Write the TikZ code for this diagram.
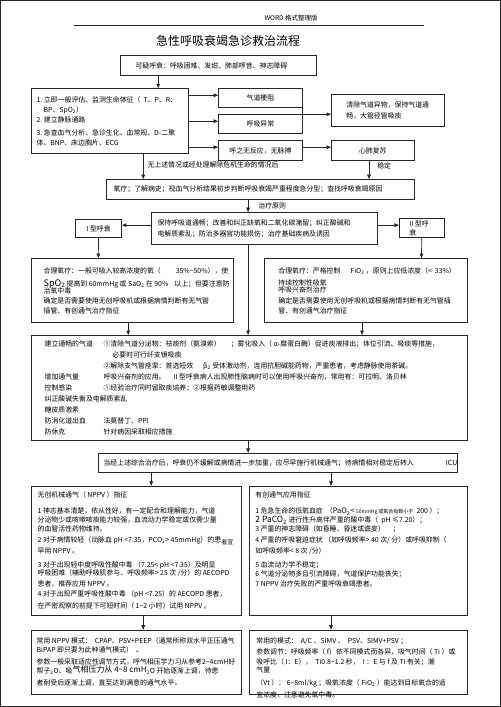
\documentclass[tikz,border=0pt]{standalone}
\usepackage{fontspec}
\setmainfont{Noto Sans CJK SC}
\usepackage{tikz}
\usetikzlibrary{arrows.meta}
\tikzset{
  >={Triangle[length=4.5pt,width=3.6pt]},
  flowbox/.style={draw=black!85, line width=0.7pt, inner sep=0pt, font=\fontsize{6.9}{10}\selectfont},
  flowlabel/.style={inner sep=1pt, font=\fontsize{6.9}{8}\selectfont},
  every path/.style={line width=0.7pt, draw=black!85}
}
\newcommand{\flowbox}[6]{\node (#1) [flowbox, anchor=north west] at (#2) {\parbox[c][#4pt][c]{#3pt}{\leftskip=#5pt\relax\rightskip=0pt plus 1fil\relax #6}};}
\newcommand{\flowarrow}[2]{\draw [->] (#1) -- (#2);}
\newcommand{\flowlabelarrow}[4]{\draw [->] (#1) -- (#2) node [flowlabel, #3] {#4};}

\begin{document}
\begin{tikzpicture}[x=1pt, y=-1pt]
\useasboundingbox (0,0) rectangle (500,707);

% header and title
\node (header) at (291,18) [font=\fontsize{6.5}{7}\selectfont] {WORD 格式整理版};
\draw (74,25) -- (424,25);
\node (title) at (228,41) [font=\fontsize{12}{14}\selectfont] {急性呼吸衰竭急诊救治流程};

% first assessment
\flowbox{suspect}{120,55}{196}{20}{15}{可疑呼衰：呼吸困难、发绀、肺部啰音、神志障碍};
\flowbox{assess}{31,88}{157}{65}{5}{1.~立即一般评估、监测生命体征（~~T、P、R、\\
\hspace*{7pt}BP、SpO\textsubscript{2}）\\
2.~建立静脉通路\\[3pt]
3.~急查血气分析、急诊生化、血常规、D-二聚\\
体、BNP、床边胸片、ECG};
\flowbox{obstr}{218,88}{84}{19}{0}{\centering 气道梗阻};
\flowbox{abnorm}{218,114}{84}{19}{0}{\centering 呼吸异常};
\flowbox{arrest}{218,140}{84}{20}{0}{\centering 呼之无反应，无脉搏};
\flowbox{clear}{331,94}{113}{32}{15}{清除气道异物，保持气道通\\[1pt]畅，大管径管吸痰};
\flowbox{cpr}{331,140}{83}{20}{0}{\centering 心肺复苏};

% oxygen and principles
\flowbox{oxygen}{106,179}{308}{20}{7}{氧疗；了解病史；视血气分析结果初步判断呼吸衰竭严重程度急分型；查找呼吸衰竭原因};
\flowbox{principles}{151,212}{226}{32}{6}{保持呼吸道通畅；改善和纠正缺氧和二氧化碳潴留；纠正酸碱和\\[1pt]
电解质紊乱；防治多器官功能损伤；治疗基础疾病及诱因};
\flowbox{typeI}{75,219}{46}{18}{0}{\centering I~型呼衰};
\flowbox{typeII}{399,218}{45}{19}{10}{II~型呼\\[-1pt]衰};

% oxygen therapy by type
\flowbox{leftox}{31,258}{202}{64}{12}{合理氧疗：一般可吸入较高浓度的氧（\hspace{15pt}35\%\textasciitilde50\%），使\\[3pt]
{\fontsize{9}{9}\selectfont SpO\textsubscript{2}}~提高到~60mmHg~或~SaO\textsubscript{2}~在~90\%\hspace{6pt}以上；但要注意防\\[-3pt]
治氧中毒\\
确定是否需要使用无创呼吸机或根据病情判断有无气管\\
插管、有创通气治疗指征};
\flowbox{rightox}{264,258}{203}{64}{14}{合理氧疗：严格控制\hspace{10pt}FiO\textsubscript{2}~，原则上应低浓度（<~~33\%）\\[2pt]
持续控制性吸氧\\[-3pt]
呼吸兴奋剂治疗\\[1pt]
确定是否需要使用无创呼吸机或根据病情判断有无气管插\\
管、有创通气治疗指征};

% general treatment
\flowbox{treat}{31,335}{436}{105}{13}{\baselineskip=11pt
\makebox[59pt][l]{建立通畅的气道}①清除气道分泌物：祛痰剂（氨溴索）\hspace{10pt}；雾化吸入（~α-糜蛋白酶）促进痰液排出；体位引流、吸痰等措施，\\
\hspace*{68pt}必要时可行纤支镜吸痰\\
\hspace*{59pt}②解除支气管痉挛：首选短效\hspace{10pt}β\textsubscript{2}~受体激动剂，连用抗胆碱能药物，严重患者，考虑静脉使用茶碱。\\
\makebox[59pt][l]{增加通气量}呼吸兴奋剂的应用。\hspace{8pt}II~型呼衰病人出现肺性脑病时可以使用呼吸兴奋剂，常用有：可拉明、洛贝林\\
\makebox[59pt][l]{控制感染}①经验治疗同时留取痰培养；②根据药敏调整用药\\
纠正酸碱失衡及电解质紊乱\\
糖皮质激素\\
\makebox[59pt][l]{防消化道出血}法莫替丁、PPI\\
\makebox[59pt][l]{防休克}针对病因采取相应措施};

\flowbox{icu}{98,453}{359}{19}{5}{当经上述综合治疗后，呼衰仍不缓解或病情进一步加重，应尽早施行机械通气；待病情相对稳定后转入\hfill ICU};

% ventilation
\flowbox{nppv}{31,486}{210}{129}{6}{无创机械通气（~NPPV~）指征\\[6pt]
1~神志基本清楚，依从性好，有一定配合和理解能力，气道\\[-1pt]
分泌物少或咳嗽咳痰能力较强，血流动力学稳定或仅需少量\\[-1pt]
的血管活性药物维持。\\[1pt]
2~对于病情较轻（动脉血~pH~<7.35，PCO\textsubscript{2}{\fontsize{7}{8}\selectfont>~45mmHg）的患}\raisebox{-1.5pt}{\fontsize{6}{7}\selectfont 者宜}\\[1pt]
早用~NPPV~。\\[4pt]
3~对于出现轻中度呼吸性酸中毒~（7.25<~pH~<7.35）及明显\\[-2pt]
呼吸困难（辅助呼吸肌参与、呼吸频率>~25~次~/分）的~AECOPD\\[1pt]
患者，推荐应用~NPPV~。\\
4~对于出现严重呼吸性酸中毒~（pH~<7.25）的~AECOPD~患者，\\[2pt]
在严密观察的前提下可短时间（~1\textasciitilde2~小时）试用~NPPV~。};
\flowbox{invasive}{249,486}{218}{129}{6}{有创通气应用指征\\[6pt]
1~危急生命的低氧血症~~（{\fontsize{7.5}{8}\selectfont PaO\textsubscript{2}<}~{\fontsize{5}{6}\selectfont 50mmHg~或氧合指数小于}~~200~）；\\[-1pt]
{\fontsize{8.5}{8}\selectfont 2~PaCO\textsubscript{2}}~进行性升高伴严重的酸中毒（~~pH~≤7.20）；\\[-1pt]
3~严重的神志障碍（如昏睡、昏迷或谵妄）\hspace{8pt}；\\[1pt]
4~严重的呼吸窘迫症状~（如呼吸频率>~40~次/~分）或呼吸抑制（\\[1pt]
如呼吸频率<~8~次~/分）\\[4pt]
5~血流动力学不稳定；\\[-1pt]
6~气道分泌物多且引流障碍，气道保护功能丧失；\\
7~NPPV~治疗失败的严重呼吸衰竭患者。\par\vspace{22pt}};
\flowbox{nppvmode}{31,630}{210}{64}{5}{常用~NPPV~模式：~~CPAP、PSV+PEEP（通常所称双水平正压通气\\[-1pt]
BiPAP~即只要为此种通气模式）~~。\\[2pt]
参数一般采取适应性调节方式，呼气相压学力习从参考2\textasciitilde4cmH好\\[-1pt]
帮子\textsubscript{2}O、吸\raisebox{1.5pt}{\fontsize{8}{8}\selectfont 气相压力从~4\textasciitilde8~cmH}\textsubscript{2}O~开始逐渐上调，待患\\[2pt]
者耐受后逐渐上调，直至达到满意的通气水平。};
\flowbox{invmode}{249,630}{218}{64}{7}{\vspace*{12pt}常用的模式：~~A/C~、SIMV~、~~PSV、SIMV+PSV~；\\[1pt]
参数调节：呼吸频率（~f）依不同模式而各异，吸气时间（~Ti~）或\\
吸呼比（~I：E），~~Ti0.8\textasciitilde1.2~秒，~~I~：E~与~f~及~Ti~有关；潮\\[-2pt]
气量\\[3pt]
（Vt~）：~6\textasciitilde8ml/kg~；吸氧浓度（~FiO\textsubscript{2}~）能达到目标氧合的适\\[2pt]
宜浓度，注意避免氧中毒。};

% connectors
\flowarrow{[xshift=38]suspect.south west}{[xshift=127]assess.north west};
\flowarrow{[yshift=-7]assess.north east}{[yshift=-7]obstr.north west};
\flowarrow{[yshift=-33]assess.north east}{[yshift=-7]abnorm.north west};
\flowarrow{[yshift=-59]assess.north east}{[yshift=-7]arrest.north west};
\draw (obstr.south east) -- (abnorm.north east);
\flowarrow{abnorm.north east}{abnorm.north east -| clear.west};
\flowarrow{[yshift=-7]arrest.north east}{[yshift=-7]cpr.north west};
\flowlabelarrow{[xshift=112]assess.south west}{[xshift=37]oxygen.north west}{pos=0.42, right=3pt}{无上述情况或经处理解除危机生命的情况后};
\flowlabelarrow{[xshift=38]cpr.south west}{[xshift=263]oxygen.north west}{pos=0.25, right=7pt}{稳定};
\flowlabelarrow{[xshift=142]oxygen.south west}{[xshift=97]principles.north west}{pos=0.45, right=9pt}{治疗原则};
\flowarrow{[yshift=-13]principles.north west}{[yshift=-6]typeI.north east};
\flowarrow{[yshift=-13]principles.north east}{[yshift=-7]typeII.north west};
\flowarrow{typeI.south}{[xshift=67]leftox.north west};
\flowarrow{typeII.south}{[xshift=157.5]rightox.north west};
\flowarrow{[xshift=97]principles.south west}{[xshift=217]treat.north west};
\flowarrow{[xshift=97]leftox.south west}{[xshift=97]treat.north west};
\flowarrow{[xshift=98]rightox.south west}{[xshift=331]treat.north west};
\flowarrow{[xshift=217]treat.south west}{[xshift=150]icu.north west};
\flowarrow{[xshift=53]icu.south west}{[xshift=120]nppv.north west};
\flowarrow{[xshift=233]icu.south west}{[xshift=82]invasive.north west};
\flowarrow{[xshift=112]nppv.south west}{[xshift=112]nppvmode.north west};
\flowarrow{[xshift=82]invasive.south west}{[xshift=82]invmode.north west};
\end{tikzpicture}
\end{document}
